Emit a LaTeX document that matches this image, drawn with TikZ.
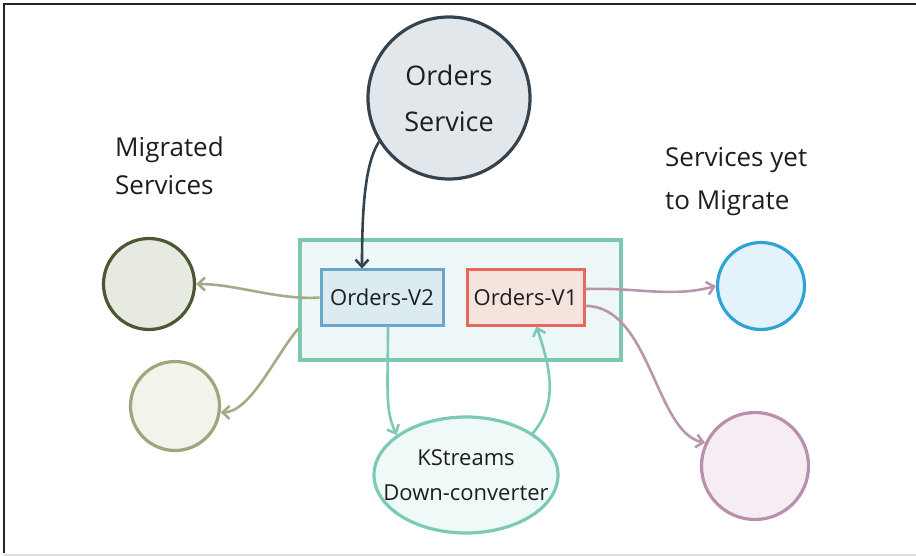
\documentclass[tikz,border=0pt]{standalone}
\usepackage{fontspec}
\setmainfont{Open Sans}
\usepackage{xcolor}
\usetikzlibrary{arrows.meta,positioning,shapes.geometric}

\definecolor{ink}{HTML}{1E1E1E}
\definecolor{svcline}{HTML}{35434F}
\definecolor{svcfill}{HTML}{E2E7EB}
\definecolor{boxline}{HTML}{7DC6AF}
\definecolor{boxfill}{HTML}{EEF7F7}
\definecolor{vtwoline}{HTML}{6AA5CB}
\definecolor{vtwofill}{HTML}{DCEBEF}
\definecolor{voneline}{HTML}{E8695C}
\definecolor{vonefill}{HTML}{F4E4DD}
\definecolor{migaline}{HTML}{4B5832}
\definecolor{migafill}{HTML}{E7EAE1}
\definecolor{migbline}{HTML}{9CA77E}
\definecolor{migbfill}{HTML}{F1F4EA}
\definecolor{migarrow}{HTML}{A3AC87}
\definecolor{todoaline}{HTML}{2DA3D6}
\definecolor{todoafill}{HTML}{E4F2FB}
\definecolor{todobline}{HTML}{B990AC}
\definecolor{todobfill}{HTML}{F6EDF4}
\definecolor{todoarrow}{HTML}{BA96AE}
\definecolor{ksline}{HTML}{7CCAB5}
\definecolor{ksfill}{HTML}{EFF9F8}

\begin{document}
\begin{tikzpicture}[x=1pt, y=-1pt,
    svc/.style={circle, draw=svcline, fill=svcfill, line width=3.2pt, minimum size=162pt,
        align=center, text=ink, font=\fontsize{27}{46}\selectfont},
    service/.style={circle, line width=3.2pt, minimum size=#1},
    version/.style={rectangle, line width=3pt, minimum height=55pt, text=ink,
        font=\fontsize{22}{26}\selectfont},
    lbl/.style={align=left, inner sep=0pt, text=ink},
    tip/.style={-{Straight Barb[length=7pt,width=13pt]}, line width=2.6pt},
    svcarrow/.style={tip, svcline},
    migedge/.style={tip, migarrow},
    ksedge/.style={tip, ksline},
    todoedge/.style={tip, todoarrow}
]
    \useasboundingbox (0,0) rectangle (916,556);
    \draw[black!85, line width=1.3pt] (916,4) -- (4,4) -- (4,553);
    \draw[black!12, line width=1.5pt] (4,555) -- (916,555);

    \node[svc] (svc) at (449,98) {Orders\\Service};
    \node[lbl, anchor=base west, font=\fontsize{26}{38}\selectfont] (lblmig) at (115,195) {Migrated\\Services};
    \node[lbl, anchor=base west, font=\fontsize{26}{43}\selectfont] (lbltodo) at (665,210) {Services yet\\to Migrate};

    \node[rectangle, draw=boxline, fill=boxfill, line width=3.2pt, minimum width=321pt,
        minimum height=120pt] (box) at (460.5,300) {};
    \node[version, draw=vtwoline, fill=vtwofill, minimum width=122pt] (v2) at (382,297.5) {Orders-V2};
    \node[version, draw=voneline, fill=vonefill, minimum width=117pt] (v1) at (525.5,297.5) {Orders-V1};

    \node[service=91pt, draw=migaline, fill=migafill] (mig1) at (149,284) {};
    \node[service=89pt, draw=migbline, fill=migbfill] (mig2) at (175,406) {};
    \node[service=87pt, draw=todoaline, fill=todoafill] (todo1) at (761,286) {};
    \node[service=107pt, draw=todobline, fill=todobfill] (todo2) at (755,466) {};
    \node[ellipse, draw=ksline, fill=ksfill, line width=3.2pt, minimum width=184pt, minimum height=116pt,
        label={[align=center, text=ink, font=\fontsize{22}{35}\selectfont]center:KStreams\\Down-converter}] (ks) at (466,475) {};

    \draw[svcarrow] (svc.212) .. controls +(-14,22) and +(0,-60) .. ([xshift=-20pt]v2.north);
    \draw[migedge] (v2.west) .. controls +(-40,3) and +(40,0) .. (mig1.east);
    \draw[migedge] (box.190) .. controls +(-22,25) and +(30,0) .. (mig2.-8);
    \draw[ksedge] ([xshift=6pt]v2.south) .. controls +(0,60) and +(-12,-25) .. (ks.150);
    \draw[ksedge] (ks.32) .. controls +(25,-30) and +(15,45) .. ([xshift=11pt]v1.south);
    \draw[todoedge] (v1.8) .. controls +(50,-2) and +(-45,12) .. (todo1.west);
    \draw[todoedge] (v1.-8) .. controls +(65,0) and +(-50,-10) .. (todo2.155);
\end{tikzpicture}
\end{document}
